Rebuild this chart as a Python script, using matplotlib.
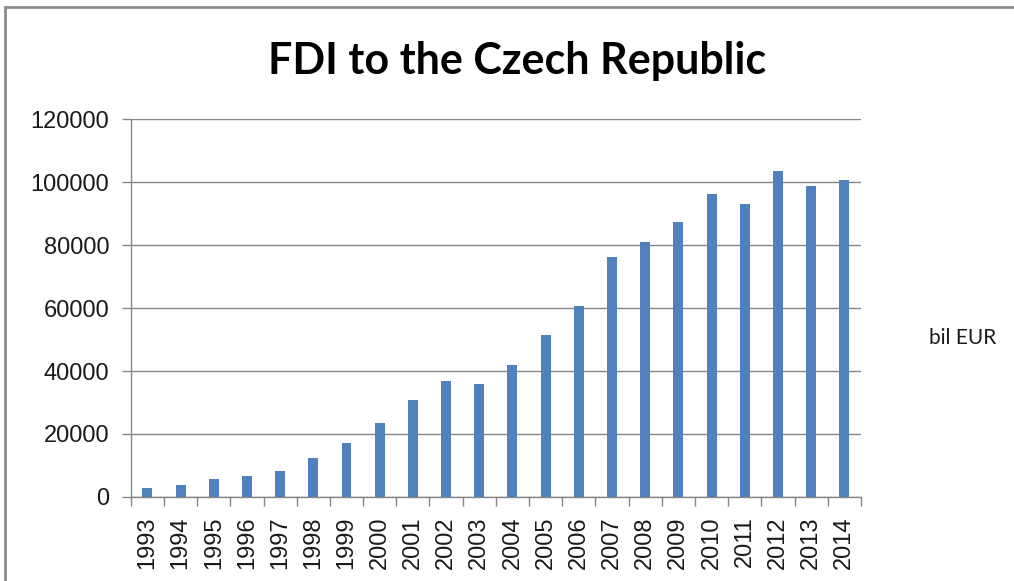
import numpy as np
import matplotlib.pyplot as plt
from matplotlib.patches import Rectangle

# FDI stock by year
years = [str(y) for y in range(1993, 2015)]
fdi = [3000, 3800, 5800, 6700, 8200, 12400, 17300, 23400, 30700, 36800, 36000,
       42000, 51500, 60500, 76200, 81100, 87300, 96200, 92900, 103500, 98600, 100700]
y_ticks = [0, 20000, 40000, 60000, 80000, 100000, 120000]

bar_color = '#4F81BD'
grid_color = '#868686'
tick_font = ['Liberation Sans', 'DejaVu Sans']

plt.rcParams['font.family'] = ['Lato', 'DejaVu Sans']

fig = plt.figure(figsize=(10.14, 5.81), dpi=100)
ax = fig.add_axes([0.129, 0.1446, 0.72, 0.6505])

x = np.arange(len(years))
ax.bar(x, fdi, width=0.3, color=bar_color, zorder=3)

ax.set_xlim(-0.5, len(years) - 0.5)
ax.set_ylim(0, 120000)
ax.set_yticks(y_ticks)
ax.set_yticklabels([str(v) for v in y_ticks], fontsize=17, family=tick_font,
                   color='#1a1a1a')
ax.set_xticks(x)
ax.set_xticklabels(years, rotation=90, fontsize=17, family=tick_font,
                   color='#1a1a1a')
ax.set_xticks(np.arange(-0.5, len(years)), minor=True)
ax.tick_params(axis='x', which='major', length=0, pad=14)
ax.tick_params(axis='x', which='minor', length=6.5, color=grid_color, width=1)
ax.tick_params(axis='y', length=6.5, color=grid_color, width=1, pad=9)

ax.grid(axis='y', color=grid_color, linewidth=1, zorder=0)
for side in ['top', 'right']:
    ax.spines[side].set_visible(False)
for side in ['left', 'bottom']:
    ax.spines[side].set_color(grid_color)
    ax.spines[side].set_linewidth(1)

fig.text(0.51, 0.895, 'FDI to the Czech Republic', ha='center', va='center',
         fontsize=31, fontweight='bold')
fig.text(0.949, 0.418, 'bil EUR', ha='center', va='center', fontsize=15,
         color='#1a1a1a')

# outer chart border
fig.patches.append(Rectangle((0.005, -0.02), 1.1, 1.008, transform=fig.transFigure,
                             fill=False, edgecolor='#8c8c8c', linewidth=2))

fig.savefig('out.png', dpi=100)
